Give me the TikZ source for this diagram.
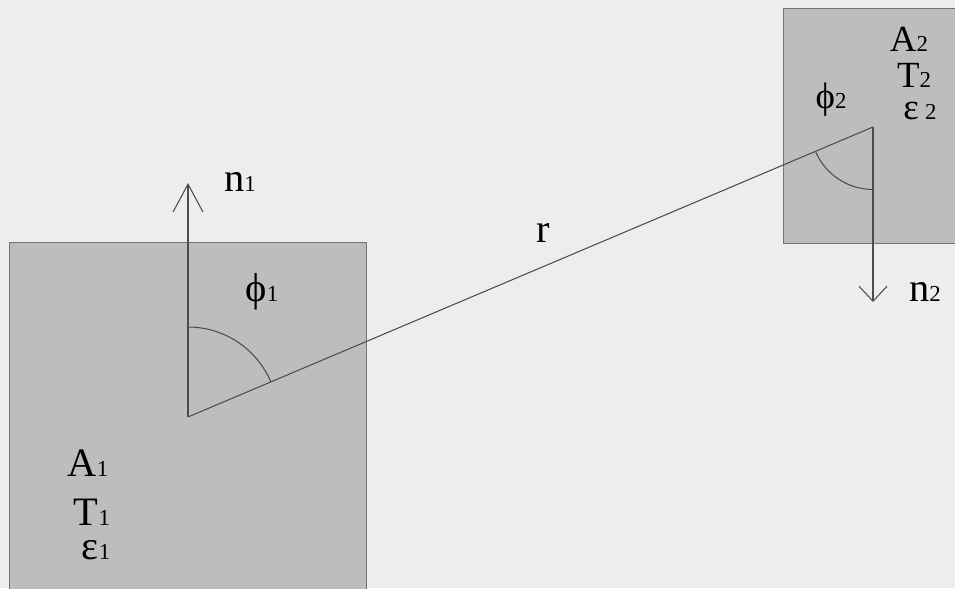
\documentclass[tikz,border=0pt]{standalone}
\usepackage{fontspec}
\setmainfont{Liberation Serif}
\usetikzlibrary{arrows.meta,positioning,calc}
\newcommand{\idx}[1]{{\fontsize{13}{13}\selectfont #1}}

\begin{document}
\begin{tikzpicture}[
    x=0.02cm, y=0.02cm,
    surf/.style={draw=black!55, fill=black!26, line width=0.6pt},
    ray/.style={draw=black!70, line width=0.6pt},
    normal/.style={ray, -{Straight Barb[length=0.56cm, width=0.6cm]}},
    normalb/.style={ray, -{Straight Barb[length=0.3cm, width=0.56cm]}},
    lbl/.style={anchor=base, inner sep=0pt, font=\fontsize{23}{23}\selectfont},
    lbs/.style={anchor=base, inner sep=0pt, font=\fontsize{21}{21}\selectfont}
]
\fill[black!7] (0,0) rectangle (955,588);
\useasboundingbox (0,0) rectangle (955,588);

\node[surf, minimum width=7.14cm, minimum height=7.32cm, anchor=north west] (s1) at (9,346) {};
\node[surf, minimum width=3.64cm, minimum height=4.7cm, anchor=north west] (s2) at (783,580) {};

\coordinate (p1) at (188,171);
\coordinate (p2) at (873,461);
\coordinate (t1) at (188,405);
\coordinate (t2) at (873,286);

\draw[ray] (p1) -- (p2);
\draw[normal] (p1) -- (t1);
\draw[normalb] (p2) -- (t2);
\draw[ray] (p1) ++(90:1.8cm) arc[start angle=90, end angle=22.94, radius=1.8cm];
\draw[ray] (p2) ++(202.94:1.25cm) arc[start angle=202.94, end angle=270, radius=1.25cm];

\node[lbl] (nl1) at (240,396) {n\idx{1}};
\node[lbl] (ph1) at (262,286) {ϕ\idx{1}};
\node[lbl] (rl) at (543,345) {r};
\node[lbl] (a1) at (88,112) {A\idx{1}};
\node[lbl] (tt1) at (92,63) {T\idx{1}};
\node[lbl] (e1) at (96,29) {ε\idx{1}};

\node[lbs] (a2) at (909,536) {A\idx{2}};
\node[lbs] (tt2) at (914,500) {T\idx{2}};
\node[lbs] (e2) at (920,468) {ε\,\idx{2}};
\node[lbs] (ph2) at (831,479) {ϕ\idx{2}};
\node[lbl] (nl2) at (925,286) {n\idx{2}};
\end{tikzpicture}
\end{document}
